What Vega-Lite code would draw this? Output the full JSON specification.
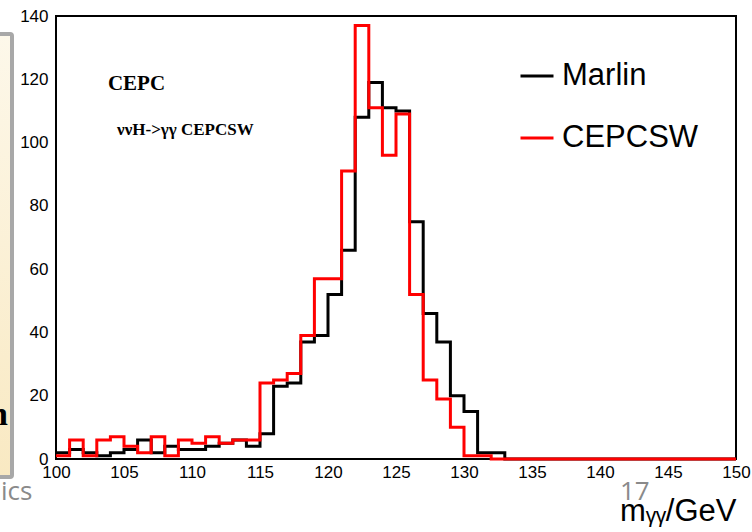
{
  "$schema": "https://vega.github.io/schema/vega-lite/v6.json",
  "width": 680,
  "height": 443,
  "autosize": {"type": "none"},
  "padding": {"left": 56, "top": 16, "right": 16, "bottom": 73},
  "background": "white",
  "config": {
    "view": {"stroke": "black", "strokeWidth": 2}
  },
  "datasets": {
    "hist": [
      {"x":100,"y":2,"s":"Marlin"},{"x":101,"y":3,"s":"Marlin"},{"x":102,"y":2,"s":"Marlin"},{"x":103,"y":1,"s":"Marlin"},
      {"x":104,"y":2,"s":"Marlin"},{"x":105,"y":3,"s":"Marlin"},{"x":106,"y":6,"s":"Marlin"},{"x":107,"y":2,"s":"Marlin"},
      {"x":108,"y":4,"s":"Marlin"},{"x":109,"y":3,"s":"Marlin"},{"x":110,"y":3,"s":"Marlin"},{"x":111,"y":4,"s":"Marlin"},
      {"x":112,"y":5,"s":"Marlin"},{"x":113,"y":6,"s":"Marlin"},{"x":114,"y":4,"s":"Marlin"},{"x":115,"y":8,"s":"Marlin"},
      {"x":116,"y":23,"s":"Marlin"},{"x":117,"y":24,"s":"Marlin"},{"x":118,"y":37,"s":"Marlin"},{"x":119,"y":39,"s":"Marlin"},
      {"x":120,"y":52,"s":"Marlin"},{"x":121,"y":66,"s":"Marlin"},{"x":122,"y":108,"s":"Marlin"},{"x":123,"y":119,"s":"Marlin"},
      {"x":124,"y":111,"s":"Marlin"},{"x":125,"y":110,"s":"Marlin"},{"x":126,"y":75,"s":"Marlin"},{"x":127,"y":46,"s":"Marlin"},
      {"x":128,"y":37,"s":"Marlin"},{"x":129,"y":20,"s":"Marlin"},{"x":130,"y":15,"s":"Marlin"},{"x":131,"y":2,"s":"Marlin"},
      {"x":132,"y":2,"s":"Marlin"},{"x":133,"y":0,"s":"Marlin"},{"x":134,"y":0,"s":"Marlin"},{"x":135,"y":0,"s":"Marlin"},
      {"x":136,"y":0,"s":"Marlin"},{"x":137,"y":0,"s":"Marlin"},{"x":138,"y":0,"s":"Marlin"},{"x":139,"y":0,"s":"Marlin"},
      {"x":140,"y":0,"s":"Marlin"},{"x":141,"y":0,"s":"Marlin"},{"x":142,"y":0,"s":"Marlin"},{"x":143,"y":0,"s":"Marlin"},
      {"x":144,"y":0,"s":"Marlin"},{"x":145,"y":0,"s":"Marlin"},{"x":146,"y":0,"s":"Marlin"},{"x":147,"y":0,"s":"Marlin"},
      {"x":148,"y":0,"s":"Marlin"},{"x":149,"y":0,"s":"Marlin"},{"x":150,"y":0,"s":"Marlin"},
      {"x":100,"y":1,"s":"CEPCSW"},{"x":101,"y":6,"s":"CEPCSW"},{"x":102,"y":1,"s":"CEPCSW"},{"x":103,"y":6,"s":"CEPCSW"},
      {"x":104,"y":7,"s":"CEPCSW"},{"x":105,"y":4,"s":"CEPCSW"},{"x":106,"y":2,"s":"CEPCSW"},{"x":107,"y":7,"s":"CEPCSW"},
      {"x":108,"y":1,"s":"CEPCSW"},{"x":109,"y":6,"s":"CEPCSW"},{"x":110,"y":5,"s":"CEPCSW"},{"x":111,"y":7,"s":"CEPCSW"},
      {"x":112,"y":5,"s":"CEPCSW"},{"x":113,"y":6,"s":"CEPCSW"},{"x":114,"y":6,"s":"CEPCSW"},{"x":115,"y":24,"s":"CEPCSW"},
      {"x":116,"y":25,"s":"CEPCSW"},{"x":117,"y":27,"s":"CEPCSW"},{"x":118,"y":39,"s":"CEPCSW"},{"x":119,"y":57,"s":"CEPCSW"},
      {"x":120,"y":57,"s":"CEPCSW"},{"x":121,"y":91,"s":"CEPCSW"},{"x":122,"y":137,"s":"CEPCSW"},{"x":123,"y":111,"s":"CEPCSW"},
      {"x":124,"y":96,"s":"CEPCSW"},{"x":125,"y":109,"s":"CEPCSW"},{"x":126,"y":52,"s":"CEPCSW"},{"x":127,"y":25,"s":"CEPCSW"},
      {"x":128,"y":19,"s":"CEPCSW"},{"x":129,"y":10,"s":"CEPCSW"},{"x":130,"y":1,"s":"CEPCSW"},{"x":131,"y":1,"s":"CEPCSW"},
      {"x":132,"y":0,"s":"CEPCSW"},{"x":133,"y":0,"s":"CEPCSW"},{"x":134,"y":0,"s":"CEPCSW"},{"x":135,"y":0,"s":"CEPCSW"},
      {"x":136,"y":0,"s":"CEPCSW"},{"x":137,"y":0,"s":"CEPCSW"},{"x":138,"y":0,"s":"CEPCSW"},{"x":139,"y":0,"s":"CEPCSW"},
      {"x":140,"y":0,"s":"CEPCSW"},{"x":141,"y":0,"s":"CEPCSW"},{"x":142,"y":0,"s":"CEPCSW"},{"x":143,"y":0,"s":"CEPCSW"},
      {"x":144,"y":0,"s":"CEPCSW"},{"x":145,"y":0,"s":"CEPCSW"},{"x":146,"y":0,"s":"CEPCSW"},{"x":147,"y":0,"s":"CEPCSW"},
      {"x":148,"y":0,"s":"CEPCSW"},{"x":149,"y":0,"s":"CEPCSW"},{"x":150,"y":0,"s":"CEPCSW"}
    ],
    "xt": [
      {"x":100,"k":"major"},{"x":101,"k":"minor"},{"x":102,"k":"minor"},{"x":103,"k":"minor"},{"x":104,"k":"minor"},
      {"x":105,"k":"major"},{"x":106,"k":"minor"},{"x":107,"k":"minor"},{"x":108,"k":"minor"},{"x":109,"k":"minor"},
      {"x":110,"k":"major"},{"x":111,"k":"minor"},{"x":112,"k":"minor"},{"x":113,"k":"minor"},{"x":114,"k":"minor"},
      {"x":115,"k":"major"},{"x":116,"k":"minor"},{"x":117,"k":"minor"},{"x":118,"k":"minor"},{"x":119,"k":"minor"},
      {"x":120,"k":"major"},{"x":121,"k":"minor"},{"x":122,"k":"minor"},{"x":123,"k":"minor"},{"x":124,"k":"minor"},
      {"x":125,"k":"major"},{"x":126,"k":"minor"},{"x":127,"k":"minor"},{"x":128,"k":"minor"},{"x":129,"k":"minor"},
      {"x":130,"k":"major"},{"x":131,"k":"minor"},{"x":132,"k":"minor"},{"x":133,"k":"minor"},{"x":134,"k":"minor"},
      {"x":135,"k":"major"},{"x":136,"k":"minor"},{"x":137,"k":"minor"},{"x":138,"k":"minor"},{"x":139,"k":"minor"},
      {"x":140,"k":"major"},{"x":141,"k":"minor"},{"x":142,"k":"minor"},{"x":143,"k":"minor"},{"x":144,"k":"minor"},
      {"x":145,"k":"major"},{"x":146,"k":"minor"},{"x":147,"k":"minor"},{"x":148,"k":"minor"},{"x":149,"k":"minor"},
      {"x":150,"k":"major"}
    ],
    "yt": [
      {"y":0,"k":"major"},{"y":5,"k":"minor"},{"y":10,"k":"minor"},{"y":15,"k":"minor"},
      {"y":20,"k":"major"},{"y":25,"k":"minor"},{"y":30,"k":"minor"},{"y":35,"k":"minor"},
      {"y":40,"k":"major"},{"y":45,"k":"minor"},{"y":50,"k":"minor"},{"y":55,"k":"minor"},
      {"y":60,"k":"major"},{"y":65,"k":"minor"},{"y":70,"k":"minor"},{"y":75,"k":"minor"},
      {"y":80,"k":"major"},{"y":85,"k":"minor"},{"y":90,"k":"minor"},{"y":95,"k":"minor"},
      {"y":100,"k":"major"},{"y":105,"k":"minor"},{"y":110,"k":"minor"},{"y":115,"k":"minor"},
      {"y":120,"k":"major"},{"y":125,"k":"minor"},{"y":130,"k":"minor"},{"y":135,"k":"minor"},
      {"y":140,"k":"major"}
    ]
  },
  "encoding": {
    "x": {"field": "x", "type": "quantitative", "scale": {"domain": [100, 150], "nice": false, "zero": false},
      "axis": {
        "values": [100,105,110,115,120,125,130,135,140,145,150],
        "grid": false, "domain": false, "ticks": false,
        "labelFont": "Liberation Sans", "labelFontSize": 17, "labelColor": "black",
        "labelFlush": false, "labelOverlap": false, "labelBound": false,
        "labelPadding": 5,
        "title": "mᵧᵧ/GeV",
        "titleFont": "Liberation Sans", "titleFontSize": 31, "titleFontWeight": "normal", "titleColor": "black",
        "titleAnchor": "end", "titleAlign": "right", "titleBaseline": "alphabetic", "titleX": 680, "titleY": 61
      }},
    "y": {"field": "y", "type": "quantitative", "scale": {"domain": [0, 140], "nice": false, "zero": false},
      "axis": {
        "values": [0,20,40,60,80,100,120,140],
        "grid": false, "domain": false, "ticks": false,
        "labelFont": "Liberation Sans", "labelFontSize": 17, "labelColor": "black",
        "labelFlush": false, "labelOverlap": false, "labelBound": false,
        "labelPadding": 8,
        "title": null
      }}
  },
  "layer": [
    {
      "data": {"values": [{"x": 90, "x2": 96.765, "y": -5.7, "y2": 134.3}]},
      "mark": {"type": "rect", "clip": false, "stroke": "#a8a8a8", "strokeWidth": 4, "cornerRadius": 2,
        "fill": {"gradient": "linear", "x1": 0, "y1": 0, "x2": 0, "y2": 1,
          "stops": [{"offset": 0, "color": "#fdf8ea"}, {"offset": 1, "color": "#f9e9c2"}]}},
      "encoding": {"x2": {"field": "x2"}, "y2": {"field": "y2"}}
    },
    {
      "data": {"name": "xt"},
      "transform": [{"filter": "datum.k === 'major'"}],
      "mark": {"type": "tick", "orient": "vertical", "size": 12, "thickness": 2, "color": "black", "opacity": 1, "yOffset": -6, "clip": false},
      "encoding": {"y": {"datum": 0, "type": "quantitative"}}
    },
    {
      "data": {"name": "xt"},
      "transform": [{"filter": "datum.k === 'minor'"}],
      "mark": {"type": "tick", "orient": "vertical", "size": 6, "thickness": 2, "color": "black", "opacity": 1, "yOffset": -3, "clip": false},
      "encoding": {"y": {"datum": 0, "type": "quantitative"}}
    },
    {
      "data": {"name": "yt"},
      "transform": [{"filter": "datum.k === 'major'"}],
      "mark": {"type": "tick", "orient": "horizontal", "size": 20, "thickness": 2, "color": "black", "opacity": 1, "xOffset": 10, "clip": false},
      "encoding": {"x": {"datum": 100, "type": "quantitative"}}
    },
    {
      "data": {"name": "yt"},
      "transform": [{"filter": "datum.k === 'minor'"}],
      "mark": {"type": "tick", "orient": "horizontal", "size": 10, "thickness": 2, "color": "black", "opacity": 1, "xOffset": 5, "clip": false},
      "encoding": {"x": {"datum": 100, "type": "quantitative"}}
    },
    {
      "data": {"name": "hist"},
      "transform": [{"filter": "datum.s === 'Marlin'"}],
      "mark": {"type": "line", "interpolate": "step-after", "strokeWidth": 3, "clip": false},
      "encoding": {
        "color": {"field": "s", "type": "nominal",
          "scale": {"domain": ["Marlin", "CEPCSW"], "range": ["black", "#ff0000"]},
          "legend": {"orient": "none", "legendX": 463, "legendY": 42, "title": null, "symbolType": "stroke",
            "symbolSize": 1089, "symbolStrokeWidth": 3, "labelFont": "Liberation Sans", "labelFontSize": 31,
            "labelColor": "black", "labelOffset": 7, "rowPadding": 29, "padding": 0}}
      }
    },
    {
      "data": {"name": "hist"},
      "transform": [{"filter": "datum.s === 'CEPCSW'"}],
      "mark": {"type": "line", "interpolate": "step-after", "strokeWidth": 3, "clip": false},
      "encoding": {
        "color": {"field": "s", "type": "nominal",
          "scale": {"domain": ["Marlin", "CEPCSW"], "range": ["black", "#ff0000"]}}
      }
    },
    {
      "data": {"values": [{"x": 103.82, "y": 118.5, "t": "CEPC"}]},
      "mark": {"type": "text", "font": "Liberation Serif", "fontWeight": "bold", "fontSize": 21, "align": "left", "baseline": "middle", "color": "black", "clip": false},
      "encoding": {"text": {"field": "t"}}
    },
    {
      "data": {"values": [{"x": 104.49, "y": 104.0, "t": "ννH->γγ CEPCSW"}]},
      "mark": {"type": "text", "font": "Liberation Serif", "fontWeight": "bold", "fontSize": 17, "align": "left", "baseline": "middle", "color": "black", "clip": false},
      "encoding": {"text": {"field": "t"}}
    },
    {
      "data": {"values": [{"x": 96.47, "y": 10.75, "t": "n"}]},
      "mark": {"type": "text", "font": "Liberation Serif", "fontWeight": "bold", "fontSize": 34, "align": "right", "baseline": "alphabetic", "color": "black", "clip": false},
      "encoding": {"text": {"field": "t"}}
    },
    {
      "data": {"values": [{"x": 95.96, "y": -12.96, "t": "ics"}, {"x": 141.47, "y": -12.96, "t": "17"}]},
      "mark": {"type": "text", "font": "Open Sans", "fontSize": 26, "align": "left", "baseline": "alphabetic", "color": "#8a8a8a", "clip": false},
      "encoding": {"text": {"field": "t"}}
    }
  ]
}
